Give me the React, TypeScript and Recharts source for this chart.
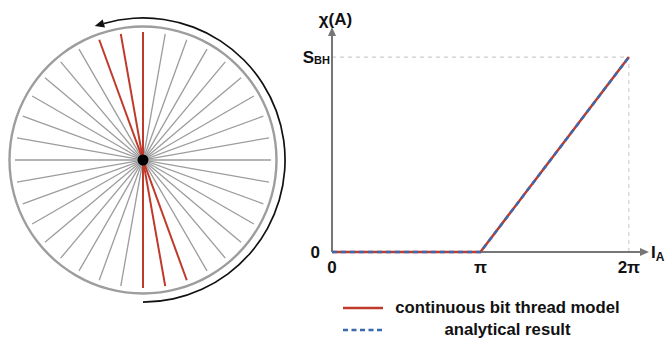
import React from 'react';
import {
  ComposedChart,
  LineChart,
  Line,
  XAxis,
  YAxis,
  ReferenceLine,
  ReferenceDot,
  PieChart,
  Pie,
} from 'recharts';

// ---------- Data ----------
// Wheel: diameters ("bit threads") every 10 degrees, angle measured from +x axis
const spokeAngles = [0, 10, 20, 30, 40, 50, 60, 70, 80, 90, 100, 110, 120, 130, 140, 150, 160, 170];
const highlightedSpokes = [90, 100, 110];
const rimData = [{ name: 'rim', value: 1 }];
const rotationData = [{ name: 'rotation', value: 1 }];
const rotationStartAngle = -90;
const rotationEndAngle = 106;

// Plot: x in units of pi
const xPositions = [0, 1, 2];
const continuousModel = [0, 0, 1];
const analyticalResult = [0, 0, 1];
const xTickLabels = ['0', 'π', '2π'];
const yTicks = [0, 1];
const legendLabels = ['continuous bit thread model', 'analytical result'];

const RED = '#bf3a2b';
const BLUE = '#3a69b0';
const SPOKE_GRAY = '#9c9c9c';
const AXIS_GRAY = '#767676';
const FONT = '"Liberation Sans", Arial, Helvetica, sans-serif';

const plotData = xPositions.map((x, i) => ({
  x,
  model: continuousModel[i],
  analytic: analyticalResult[i],
}));

const deg = (a: number) => (a * Math.PI) / 180;
const spokeSegment = (a: number) => [
  { x: Math.cos(deg(a)), y: Math.sin(deg(a)) },
  { x: -Math.cos(deg(a)), y: -Math.sin(deg(a)) },
];

// wheel scale: 1 unit = 128 px, plot half size 143 px
const HALF = 143 / 128;
const ARROW_R = 142 / 128;

const ArrowHead = (props: any) => {
  const { cx, cy } = props;
  const t = deg(rotationEndAngle);
  const tx = -Math.sin(t);
  const ty = -Math.cos(t);
  const nx = -ty;
  const ny = tx;
  const L = 9.5;
  const W = 4.2;
  const tip = [cx + tx * L, cy + ty * L];
  const b1 = [cx + nx * W, cy + ny * W];
  const b2 = [cx - nx * W, cy - ny * W];
  return (
    <polygon
      points={`${tip[0]},${tip[1]} ${b1[0]},${b1[1]} ${b2[0]},${b2[1]}`}
      fill="#111"
      stroke="none"
    />
  );
};

const XTick = (props: any) => {
  const { x, y, payload } = props;
  const label = xTickLabels[xPositions.indexOf(payload.value)];
  return (
    <text
      x={x}
      y={y + 21}
      textAnchor="middle"
      fontFamily={FONT}
      fontWeight={700}
      fontSize={17}
      fill="#111"
    >
      {label}
    </text>
  );
};

const YTick = (props: any) => {
  const { x, y, payload } = props;
  if (payload.value === 0) {
    return (
      <text
        x={x - 12}
        y={y + 6}
        textAnchor="end"
        fontFamily={FONT}
        fontWeight={700}
        fontSize={17}
        fill="#111"
      >
        0
      </text>
    );
  }
  return (
    <text
      x={x - 2}
      y={y + 6}
      textAnchor="end"
      fontFamily={FONT}
      fontWeight={700}
      fontSize={17}
      fill="#111"
    >
      S
      <tspan fontSize={11} dy={1}>
        BH
      </tspan>
    </text>
  );
};

const YLabel = (props: any) => {
  const { viewBox } = props;
  return (
    <text
      x={viewBox.x + viewBox.width + 3.5}
      y={viewBox.y - 11}
      textAnchor="middle"
      fontFamily={FONT}
      fontWeight={700}
      fontSize={17}
      fill="#111"
    >
      χ(A)
    </text>
  );
};

const XLabel = (props: any) => {
  const { viewBox } = props;
  return (
    <text
      x={viewBox.x + viewBox.width + 11}
      y={viewBox.y + 6}
      textAnchor="start"
      fontFamily={FONT}
      fontWeight={700}
      fontSize={17}
      fill="#111"
    >
      I
      <tspan fontSize={12} dy={3}>
        A
      </tspan>
    </text>
  );
};

export default function App() {
  return (
    <div
      style={{
        position: 'absolute',
        left: 0,
        top: 0,
        width: 666,
        height: 339,
        background: '#fff',
        fontFamily: FONT,
        overflow: 'hidden',
      }}
    >
      {/* Rim and rotation arrow */}
      <div style={{ position: 'absolute', left: 0, top: 0 }}>
        <PieChart width={290} height={339} margin={{ top: 0, right: 0, bottom: 0, left: 0 }}>
          <Pie
            data={rimData}
            dataKey="value"
            cx={143}
            cy={160}
            innerRadius={132.3}
            outerRadius={134.7}
            startAngle={0}
            endAngle={360}
            fill="#9d9d9d"
            stroke="none"
            isAnimationActive={false}
          />
          <Pie
            data={rotationData}
            dataKey="value"
            cx={143}
            cy={160}
            innerRadius={141.2}
            outerRadius={142.9}
            startAngle={rotationStartAngle}
            endAngle={rotationEndAngle}
            fill="#111"
            stroke="none"
            isAnimationActive={false}
          />
        </PieChart>
      </div>

      {/* Spokes */}
      <div style={{ position: 'absolute', left: 0, top: 0 }}>
        <ComposedChart width={290} height={339} margin={{ top: 17, right: 4, bottom: 36, left: 0 }}>
          <XAxis type="number" dataKey="x" domain={[-HALF, HALF]} hide allowDataOverflow />
          <YAxis type="number" dataKey="y" domain={[-HALF, HALF]} hide allowDataOverflow />
          {spokeAngles
            .filter((a) => !highlightedSpokes.includes(a))
            .map((a) => (
              <ReferenceLine
                key={'g' + a}
                segment={spokeSegment(a)}
                stroke={SPOKE_GRAY}
                strokeWidth={1.3}
              />
            ))}
          {highlightedSpokes.map((a) => (
            <ReferenceLine key={'r' + a} segment={spokeSegment(a)} stroke={RED} strokeWidth={2} />
          ))}
          <ReferenceDot x={0} y={0} r={5.5} fill="#000" stroke="none" />
          <ReferenceDot
            x={Math.cos(deg(rotationEndAngle)) * ARROW_R}
            y={Math.sin(deg(rotationEndAngle)) * ARROW_R}
            r={4}
            shape={ArrowHead}
          />
        </ComposedChart>
      </div>

      {/* Entropy plot */}
      <div style={{ position: 'absolute', left: 290, top: 0 }}>
        <LineChart
          width={376}
          height={339}
          data={plotData}
          margin={{ top: 36, right: 26, bottom: 86, left: 41 }}
        >
          <defs>
            <marker
              id="axisArrow"
              markerWidth={10}
              markerHeight={10}
              refX={0}
              refY={4}
              orient="auto-start-reverse"
              markerUnits="userSpaceOnUse"
            >
              <path d="M0,0 L9,4 L0,8 Z" fill={AXIS_GRAY} />
            </marker>
          </defs>
          <XAxis
            type="number"
            dataKey="x"
            domain={[0, 2.075]}
            ticks={xPositions}
            interval={0}
            height={1}
            tickSize={0}
            tickMargin={0}
            tickLine={false}
            axisLine={{ stroke: AXIS_GRAY, strokeWidth: 2, markerEnd: 'url(#axisArrow)' }}
            tick={<XTick />}
            label={<XLabel />}
          />
          <YAxis
            type="number"
            domain={[0, 1.108]}
            ticks={yTicks}
            interval={0}
            width={1}
            tickSize={0}
            tickMargin={0}
            tickLine={false}
            axisLine={{ stroke: AXIS_GRAY, strokeWidth: 2, markerStart: 'url(#axisArrow)' }}
            tick={<YTick />}
            label={<YLabel />}
          />
          <ReferenceLine
            segment={[{ x: 0, y: 1 }, { x: 2, y: 1 }]}
            stroke="#cfcfcf"
            strokeWidth={1.2}
            strokeDasharray="4 4"
            zIndex={-50}
          />
          <ReferenceLine
            segment={[{ x: 2, y: 0 }, { x: 2, y: 1 }]}
            stroke="#cfcfcf"
            strokeWidth={1.2}
            strokeDasharray="4 4"
            zIndex={-50}
          />
          <Line
            type="linear"
            dataKey="model"
            stroke={RED}
            strokeWidth={2.5}
            dot={false}
            isAnimationActive={false}
            zIndex={700}
          />
          <Line
            type="linear"
            dataKey="analytic"
            stroke={BLUE}
            strokeWidth={2.5}
            strokeDasharray="5 4"
            dot={false}
            isAnimationActive={false}
            zIndex={710}
          />
        </LineChart>
      </div>

      {/* Legend */}
      <div style={{ position: 'absolute', left: 335, top: 297, width: 300 }}>
        {legendLabels.map((label, i) => (
          <div key={label} style={{ display: 'flex', alignItems: 'center', height: 22 }}>
            <svg width={55} height={22}>
              <line
                x1={8}
                x2={48}
                y1={11}
                y2={11}
                stroke={i === 0 ? RED : BLUE}
                strokeWidth={2.5}
                strokeDasharray={i === 0 ? undefined : '5 3.5'}
              />
            </svg>
            <div
              style={{
                width: 235,
                textAlign: 'center',
                fontWeight: 700,
                fontSize: 16.7,
                color: '#111',
                whiteSpace: 'nowrap',
                lineHeight: '22px',
              }}
            >
              {label}
            </div>
          </div>
        ))}
      </div>
    </div>
  );
}
